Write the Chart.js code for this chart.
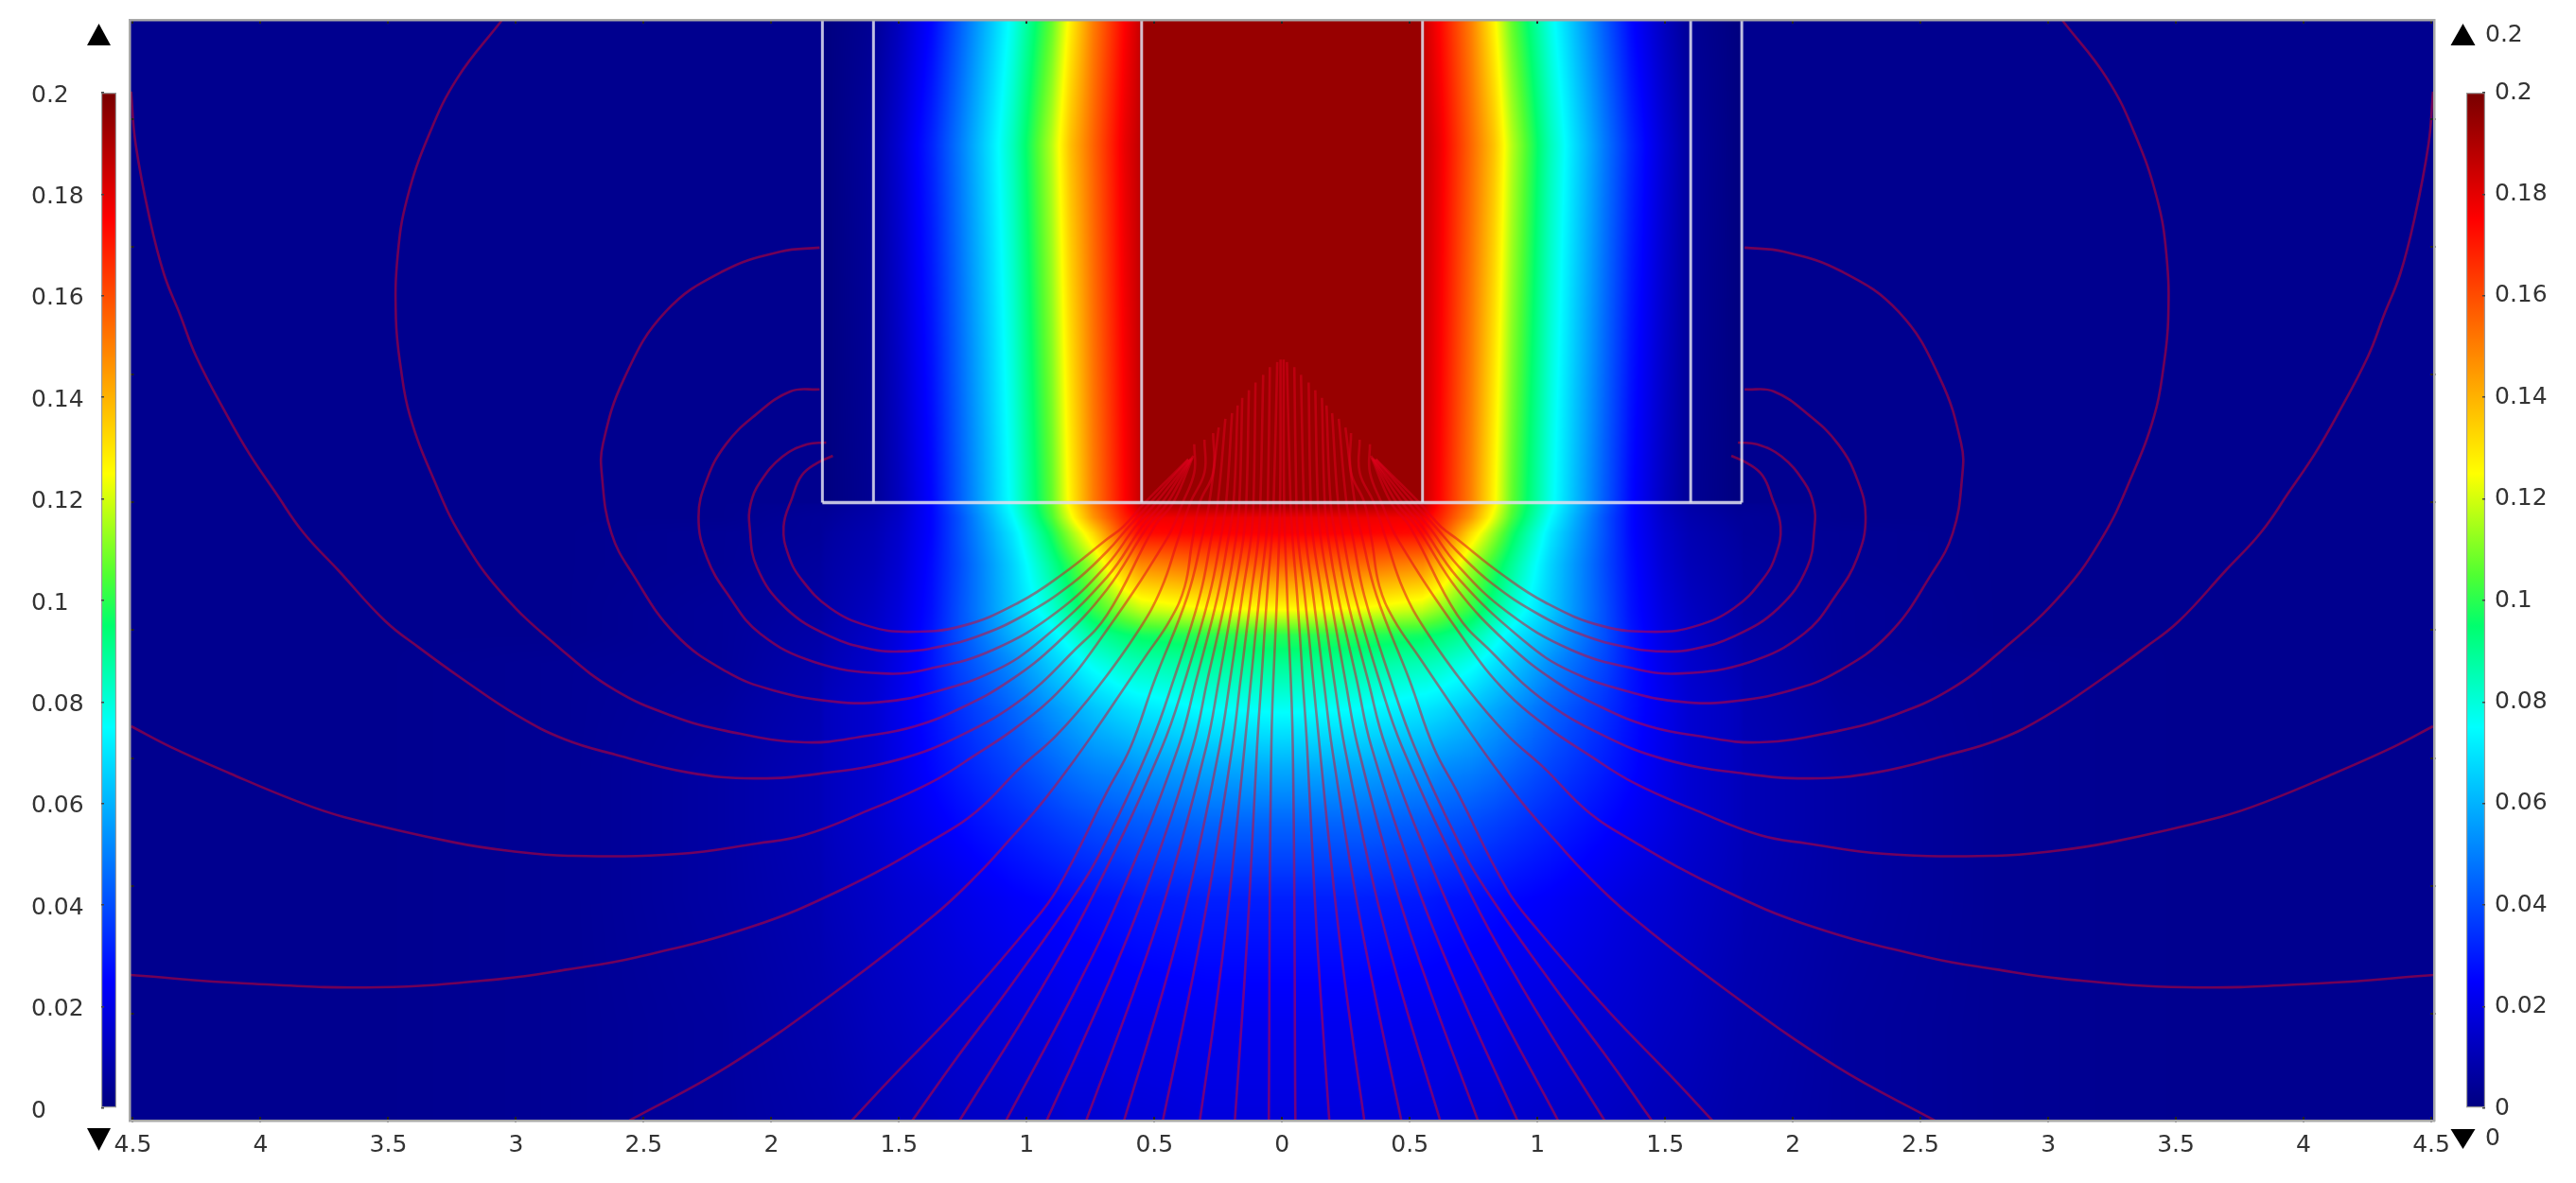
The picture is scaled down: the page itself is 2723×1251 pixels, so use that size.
<!DOCTYPE html>
<html>
<head>
<meta charset="utf-8">
<title>Field plot</title>
<script src="https://cdn.jsdelivr.net/npm/chart.js@4"></script>
<style>
  html, body { margin: 0; padding: 0; background: #fff; width: 2723px; height: 1251px; overflow: hidden; }
  canvas { position: absolute; top: 0; filter: blur(0.7px); }
  #main { left: 0; }
  #barLeft { left: 0; }
  #barRight { left: 2575px; }
</style>
</head>
<body>
<canvas id="barLeft" width="130" height="1251"></canvas>
<canvas id="barRight" width="148" height="1251"></canvas>
<canvas id="main" width="2723" height="1251"></canvas>
<script>
// axis ticks
const xTickValues = [-4.5, -4, -3.5, -3, -2.5, -2, -1.5, -1, -0.5, 0, 0.5, 1, 1.5, 2, 2.5, 3, 3.5, 4, 4.5];
const yTickValues = [-2, -1.5, -1, -0.5, 0, 0.5, 1, 1.5];
const barTickValues = [0, 0.02, 0.04, 0.06, 0.08, 0.1, 0.12, 0.14, 0.16, 0.18, 0.2];
const barTickLabels = ['0', '0.02', '0.04', '0.06', '0.08', '0.1', '0.12', '0.14', '0.16', '0.18', '0.2'];
const rangeMax = 0.2;
const rangeMin = 0;

// field, right half (the plot is symmetric), one row per y
const heatX = [0, 0.3, 0.55, 0.56, 0.62, 0.74, 0.83, 0.9, 1.05, 1.27, 1.37, 1.5, 1.6, 1.79, 1.81, 2.2, 2.8, 3.5, 4.52];
const heatY = [1.9, 1.4, 0, -0.01, -0.06, -0.12, -0.24, -0.42, -0.52, -0.63, -0.81, -1.05, -1.25, -1.55, -2.04, -2.43];
const heatRows = [
  [.194, .194, .194, .184, .174, .15, .127, .107, .078, .042, .026, .012, .004, 0, .003, .003, .003, .003, .003],
  [.194, .194, .194, .186, .178, .155, .137, .117, .085, .048, .032, .016, .006, 0, .003, .003, .003, .003, .003],
  [.194, .194, .194, .184, .174, .15, .127, .107, .078, .042, .026, .012, .004, 0, .003, .003, .003, .003, .003],
  [.192, .19, .187, .185, .172, .15, .127, .107, .078, .042, .026, .013, .008, .004, .004, .003, .003, .003, .003],
  [.178, .178, .177, .176, .168, .145, .122, .104, .075, .04, .026, .014, .009, .005, .005, .003, .003, .003, .003],
  [.176, .175, .173, .172, .162, .132, .113, .098, .071, .04, .026, .015, .01, .006, .005, .004, .003, .003, .003],
  [.157, .155, .149, .148, .14, .115, .101, .09, .067, .039, .027, .016, .011, .007, .006, .004, .003, .003, .003],
  [.125, .124, .118, .117, .112, .101, .09, .081, .065, .04, .028, .018, .013, .008, .007, .005, .003, .003, .003],
  [.1, .1, .097, .096, .094, .088, .079, .072, .06, .04, .029, .019, .014, .009, .008, .005, .003, .003, .003],
  [.09, .089, .085, .085, .083, .077, .07, .065, .053, .038, .029, .02, .015, .01, .009, .005, .004, .003, .003],
  [.076, .075, .07, .07, .068, .063, .058, .054, .045, .034, .028, .021, .016, .012, .01, .006, .004, .003, .003],
  [.058, .057, .054, .054, .052, .05, .047, .044, .038, .03, .026, .02, .016, .012, .011, .007, .004, .003, .003],
  [.045, .045, .043, .043, .042, .04, .038, .036, .032, .026, .023, .019, .016, .012, .011, .007, .004, .003, .003],
  [.031, .031, .03, .03, .029, .028, .027, .026, .024, .02, .018, .016, .014, .011, .01, .007, .004, .003, .003],
  [.022, .022, .021, .021, .021, .02, .02, .019, .018, .016, .015, .013, .012, .009, .009, .006, .004, .003, .003],
  [.018, .018, .017, .017, .017, .016, .016, .015, .014, .013, .012, .011, .01, .008, .008, .006, .004, .003, .003]
];

// outlines of the box
const boxOuterX = 1.8;
const boxMiddleX = 1.6;
const boxInnerX = 0.55;
const boxTopY = 1.89;
const boxBottomY = 0;

// stream lines, left half
const streamA = [[-1.759,.183],[-1.822,.154],[-1.881,.106],[-1.919,.017],[-1.952,-.094],[-1.933,-.206],[-1.881,-.302],[-1.77,-.413],[-1.622,-.483],[-1.463,-.506],[-1.252,-.483],[-1.03,-.391],[-.859,-.28],[-.685,-.143],[-.622,-.094],[-.537,0],[-.367,.169]];
const streamB = [[-1.785,.235],[-1.859,.228],[-1.956,.18],[-2.044,.08],[-2.081,-.006],[-2.085,-.094],[-2.056,-.254],[-1.944,-.413],[-1.77,-.524],[-1.6,-.576],[-1.5,-.583],[-1.378,-.572],[-1.193,-.524],[-1.007,-.439],[-.822,-.317],[-.685,-.191],[-.6,-.094],[-.515,0],[-.367,.169]];
const streamC = [[-1.811,.443],[-1.926,.435],[-2.067,.339],[-2.178,.228],[-2.252,.091],[-2.285,-.057],[-2.252,-.217],[-2.167,-.365],[-2.044,-.513],[-1.833,-.624],[-1.563,-.669],[-1.378,-.65],[-1.13,-.576],[-.881,-.428],[-.685,-.243],[-.574,-.094],[-.493,0],[-.359,.169]];
const streamD = [[-1.811,.998],[-1.963,.983],[-2.189,.906],[-2.415,.746],[-2.574,.491],[-2.659,.231],[-2.663,.102],[-2.626,-.12],[-2.541,-.283],[-2.378,-.513],[-2.178,-.661],[-1.993,-.735],[-1.748,-.78],[-1.563,-.78],[-1.378,-.746],[-1.13,-.661],[-.944,-.539],[-.685,-.291],[-.548,-.094],[-.47,0],[-.356,.172]];
const streamE = [[-3.056,1.887],[-3.23,1.661],[-3.341,1.439],[-3.426,1.191],[-3.463,.969],[-3.47,.72],[-3.452,.535],[-3.415,.339],[-3.322,.091],[-3.215,-.131],[-3.056,-.354],[-2.822,-.576],[-2.611,-.735],[-2.389,-.835],[-2.178,-.894],[-1.87,-.939],[-1.622,-.913],[-1.437,-.876],[-1.252,-.802],[-1.067,-.698],[-.881,-.55],[-.685,-.339],[-.526,-.094],[-.448,0],[-.352,.176]];
const streamF = [[-4.507,1.609],[-4.489,1.402],[-4.433,1.106],[-4.378,.894],[-4.315,.735],[-4.252,.572],[-4.13,.339],[-4.044,.191],[-3.944,.043],[-3.833,-.117],[-3.696,-.265],[-3.511,-.465],[-3.378,-.569],[-3.215,-.687],[-2.993,-.835],[-2.807,-.928],[-2.611,-.987],[-2.326,-1.057],[-2.067,-1.08],[-1.807,-1.061],[-1.5,-1.006],[-1.252,-.909],[-1.007,-.761],[-.822,-.587],[-.685,-.439],[-.5,-.094],[-.426,0],[-.348,.183]];
const streamG = [[-4.507,-.876],[-4.352,-.957],[-4.119,-1.061],[-3.859,-1.169],[-3.674,-1.231],[-3.241,-1.331],[-3.019,-1.365],[-2.796,-1.383],[-2.363,-1.376],[-2.056,-1.335],[-1.87,-1.302],[-1.622,-1.206],[-1.378,-1.098],[-1.193,-.983],[-1.044,-.883],[-.881,-.746],[-.722,-.55],[-.452,-.143],[-.389,0],[-.344,.117],[-.344,.228]];
const streamH = [[-4.511,-1.85],[-4.056,-1.883],[-3.537,-1.898],[-3.056,-1.865],[-2.796,-1.828],[-2.526,-1.78],[-2.078,-1.661],[-1.719,-1.513],[-1.378,-1.328],[-1.193,-1.206],[-1.03,-1.043],[-.881,-.909],[-.722,-.724],[-.563,-.502],[-.474,-.339],[-.407,-.143],[-.359,0],[-.304,.117],[-.304,.246]];
const streamI = [[-2.556,-2.42],[-2.167,-2.206],[-1.719,-1.894],[-1.359,-1.613],[-1.193,-1.457],[-1.067,-1.32],[-.944,-1.18],[-.822,-1.02],[-.73,-.891],[-.637,-.754],[-.537,-.606],[-.437,-.457],[-.381,-.328],[-.352,-.154],[-.322,0],[-.27,.117],[-.27,.272]];
const streamJ = [[-1.685,-2.42],[-1.541,-2.265],[-1.27,-1.983],[-1,-1.672],[-.88,-1.513],[-.685,-1.131],[-.593,-.957],[-.5,-.698],[-.37,-.365],[-.315,-.143],[-.285,0],[-.248,.294]];
const streamK = [[-1.448,-2.42],[-1.278,-2.18],[-1.056,-1.883],[-.796,-1.513],[-.685,-1.317],[-.519,-.957],[-.426,-.698],[-.322,-.365],[-.278,-.143],[-.252,0],[-.222,.328]];
const streamL = [[-1.263,-2.42],[-.941,-1.9],[-.728,-1.513],[-.47,-.957],[-.381,-.698],[-.285,-.365],[-.241,-.143],[-.219,0],[-.196,.35]];
const streamM = [[-1.081,-2.42],[-.805,-1.9],[-.623,-1.513],[-.406,-.957],[-.337,-.698],[-.252,-.365],[-.211,-.143],[-.19,0],[-.174,.38]];
const streamN = [[-.922,-2.42],[-.688,-1.9],[-.533,-1.513],[-.35,-.957],[-.293,-.698],[-.219,-.365],[-.181,-.143],[-.167,0],[-.156,.41]];
const streamO = [[-.767,-2.42],[-.575,-1.9],[-.447,-1.513],[-.297,-.957],[-.248,-.698],[-.189,-.365],[-.152,-.143],[-.14,0],[-.13,.44]];
const streamP = [[-.619,-2.42],[-.463,-1.9],[-.362,-1.513],[-.245,-.957],[-.204,-.698],[-.156,-.365],[-.122,-.143],[-.112,0],[-.104,.47]];
const streamQ = [[-.467,-2.42],[-.358,-1.9],[-.284,-1.513],[-.195,-.957],[-.163,-.698],[-.122,-.365],[-.093,-.143],[-.085,0],[-.074,.5]];
const streamR = [[-.322,-2.42],[-.249,-1.9],[-.203,-1.513],[-.147,-.957],[-.122,-.698],[-.089,-.365],[-.063,-.143],[-.056,0],[-.048,.53]];
const streamS = [[-.185,-2.42],[-.149,-1.9],[-.126,-1.513],[-.098,-.957],[-.081,-.698],[-.059,-.365],[-.041,-.143],[-.033,0],[-.019,.55]];
const streamT = [[-.052,-2.42],[-.042,-.957],[-.02,-.365],[-.008,0],[-.006,.56]];
const leftStreams = [streamA, streamB, streamC, streamD, streamE, streamF, streamG, streamH, streamI, streamJ, streamK, streamL, streamM, streamN, streamO, streamP, streamQ, streamR, streamS, streamT];

// colour map stops: value, r, g, b
const colorStops = [
  [0, 0, 0, 128], [0.025, 0, 0, 255], [0.075, 0, 255, 255], [0.095, 0, 255, 110],
  [0.105, 80, 255, 50], [0.125, 255, 255, 0], [0.175, 255, 0, 0], [0.2, 120, 0, 0]
];

const textColor = '#333';
const tickFont = { family: '"DejaVu Sans"', size: 25 };

function colorAt(v) {
  if (v <= colorStops[0][0]) return colorStops[0].slice(1);
  for (var i = 1; i < colorStops.length; i++) {
    if (v <= colorStops[i][0]) {
      var a = colorStops[i - 1], b = colorStops[i];
      var t = (v - a[0]) / (b[0] - a[0]);
      return [a[1] + (b[1] - a[1]) * t, a[2] + (b[2] - a[2]) * t, a[3] + (b[3] - a[3]) * t];
    }
  }
  return colorStops[colorStops.length - 1].slice(1);
}

function findCell(list, v) {
  // list ascending
  var i = 0;
  while (i < list.length - 2 && v > list[i + 1]) i++;
  return [i, Math.max(0, Math.min(1, (v - list[i]) / (list[i + 1] - list[i])))];
}

// paints the field under the datasets, through the chart's own scales
const heatPlugin = {
  id: 'heat',
  beforeDatasetsDraw(chart) {
    const area = chart.chartArea, xs = chart.scales.x, ys = chart.scales.y;
    const w = Math.round(area.right - area.left), h = Math.round(area.bottom - area.top);
    const off = document.createElement('canvas');
    off.width = w; off.height = h;
    const octx = off.getContext('2d');
    const img = octx.createImageData(w, h);
    const lut = [];
    for (var l = 0; l <= 2000; l++) lut.push(colorAt(l / 2000 * rangeMax));
    const yAsc = heatY.slice().reverse();
    const rowsAsc = heatRows.slice().reverse();
    const cols = [];
    for (var i = 0; i < w; i++) cols.push(findCell(heatX, Math.abs(xs.getValueForPixel(area.left + i + 0.5))));
    for (var j = 0; j < h; j++) {
      const rc = findCell(yAsc, ys.getValueForPixel(area.top + j + 0.5));
      const r0 = rowsAsc[rc[0]], r1 = rowsAsc[rc[0] + 1];
      for (var k = 0; k < w; k++) {
        const c = cols[k][0], t = cols[k][1];
        const v0 = r0[c] + (r0[c + 1] - r0[c]) * t;
        const v1 = r1[c] + (r1[c + 1] - r1[c]) * t;
        const v = v0 + (v1 - v0) * rc[1];
        const rgb = lut[Math.max(0, Math.min(2000, Math.round(v / rangeMax * 2000)))];
        const p = (j * w + k) * 4;
        img.data[p] = rgb[0]; img.data[p + 1] = rgb[1]; img.data[p + 2] = rgb[2]; img.data[p + 3] = 255;
      }
    }
    octx.putImageData(img, 0, 0);
    chart.ctx.drawImage(off, area.left, area.top, area.right - area.left, area.bottom - area.top);
  }
};

function toPoints(line, sign) {
  return line.map(function (p) { return { x: p[0] * sign, y: p[1] }; });
}

const datasets = [];
leftStreams.forEach(function (line) {
  [1, -1].forEach(function (sign) {
    datasets.push({
      data: toPoints(line, sign), showLine: true, pointRadius: 0, tension: 0.42,
      borderColor: 'rgba(225,0,30,0.5)', borderWidth: 2.6, order: 2
    });
  });
});
// box lines
[[boxOuterX, boxTopY, boxOuterX, boxBottomY], [boxMiddleX, boxTopY, boxMiddleX, boxBottomY], [boxInnerX, boxTopY, boxInnerX, boxBottomY]].forEach(function (s) {
  [1, -1].forEach(function (sign) {
    datasets.push({
      data: [{ x: s[0] * sign, y: s[1] }, { x: s[2] * sign, y: s[3] }], showLine: true, pointRadius: 0,
      borderColor: 'rgba(225,225,240,0.85)', borderWidth: 3, order: 1
    });
  });
});
datasets.push({
  data: [{ x: -boxOuterX, y: boxBottomY }, { x: boxOuterX, y: boxBottomY }], showLine: true, pointRadius: 0,
  borderColor: 'rgba(225,225,240,0.85)', borderWidth: 3.5, order: 1
});

function frameAxis(position, tickValues, minV, maxV, showLabels) {
  return {
    type: 'linear', position: position, min: minV, max: maxV,
    afterBuildTicks: function (scale) { scale.ticks = tickValues.map(function (v) { return { value: v }; }); },
    afterFit: function (scale) {
      if (position === 'bottom') scale.height = 1251 - 1185;
      else if (position === 'top') scale.height = 0;
      else scale.width = 0;
    },
    grid: { drawOnChartArea: false, drawTicks: true, tickLength: -4, color: '#222', lineWidth: 2, z: 1 },
    border: { display: true, color: '#a8a8a8', width: 2.5, z: 1 },
    ticks: showLabels ? {
      autoSkip: false, maxRotation: 0, minRotation: 0, padding: 15, color: textColor, font: tickFont,
      callback: function (v) { return String(Math.abs(v)); }
    } : { display: false }
  };
}

new Chart(document.getElementById('main'), {
  type: 'scatter',
  data: { datasets: datasets },
  plugins: [heatPlugin],
  options: {
    responsive: false, animation: false, events: [],
    layout: { padding: { left: 137.5, top: 21, right: 150, bottom: 0 } },
    plugins: { legend: { display: false }, tooltip: { enabled: false } },
    scales: {
      x: frameAxis('bottom', xTickValues, -4.511, 4.511, true),
      xTop: frameAxis('top', xTickValues, -4.511, 4.511, false),
      y: frameAxis('left', yTickValues, -2.42, 1.89, false),
      yRight: frameAxis('right', yTickValues, -2.42, 1.89, false)
    }
  }
});

function barGradient(ctx) {
  const chart = ctx.chart, ys = chart.scales.y;
  if (!chart.chartArea) return '#000';
  const g = chart.ctx.createLinearGradient(0, ys.getPixelForValue(rangeMin), 0, ys.getPixelForValue(rangeMax));
  colorStops.forEach(function (s) {
    g.addColorStop((s[0] - rangeMin) / (rangeMax - rangeMin), 'rgb(' + s[1] + ',' + s[2] + ',' + s[3] + ')');
  });
  return g;
}

// arrows above and below a colour bar, with the optional range labels
function arrowsPlugin(cx, halfW, upTop, upBottom, downTop, downBottom, labelX) {
  return {
    id: 'arrows',
    afterDraw(chart) {
      const c = chart.ctx;
      c.save();
      c.fillStyle = '#000';
      c.beginPath(); c.moveTo(cx - halfW, upBottom); c.lineTo(cx + halfW, upBottom); c.lineTo(cx, upTop); c.closePath(); c.fill();
      c.beginPath(); c.moveTo(cx - halfW, downTop); c.lineTo(cx + halfW, downTop); c.lineTo(cx, downBottom); c.closePath(); c.fill();
      if (labelX !== null) {
        c.fillStyle = textColor;
        c.font = '25px "DejaVu Sans"';
        c.textAlign = 'left';
        c.textBaseline = 'middle';
        c.fillText(String(rangeMax), labelX, (upTop + upBottom) / 2 + 1);
        c.fillText(String(rangeMin), labelX, (downTop + downBottom) / 2);
      }
      c.restore();
    }
  };
}

function makeBar(id, side, padding, axisWidth, labelOffset, plugin) {
  new Chart(document.getElementById(id), {
    type: 'bar',
    data: {
      labels: [''],
      datasets: [{
        data: [[rangeMin, rangeMax]], backgroundColor: barGradient, borderColor: '#9a9a9a', borderWidth: 1.5,
        borderSkipped: false, barPercentage: 1, categoryPercentage: 1
      }]
    },
    plugins: [plugin],
    options: {
      responsive: false, animation: false, events: [],
      layout: { padding: padding },
      plugins: { legend: { display: false }, tooltip: { enabled: false } },
      scales: {
        x: { display: false },
        y: {
          position: side, min: rangeMin, max: rangeMax,
          afterBuildTicks: function (scale) { scale.ticks = barTickValues.map(function (v) { return { value: v }; }); },
          afterFit: function (scale) { scale.width = axisWidth; },
          grid: { drawOnChartArea: false, drawTicks: true, tickLength: -3, color: '#444', lineWidth: 1.5, z: 1 },
          border: { display: false },
          ticks: {
            crossAlign: side === 'left' ? 'far' : 'near', padding: 13, labelOffset: labelOffset,
            color: textColor, font: tickFont, autoSkip: false,
            callback: function (v, i) { return barTickLabels[i]; }
          }
        }
      }
    }
  });
}

makeBar('barLeft', 'left', { left: 33, right: 7, top: 98, bottom: 79 }, 74, 3, arrowsPlugin(104.5, 12.5, 25, 48, 1193, 1217, null));
makeBar('barRight', 'right', { left: 32, right: 6, top: 98, bottom: 79 }, 90, 0, arrowsPlugin(2603.5 - 2575, 13, 25, 48, 1194, 1215, 2627 - 2575));
</script>
</body>
</html>
